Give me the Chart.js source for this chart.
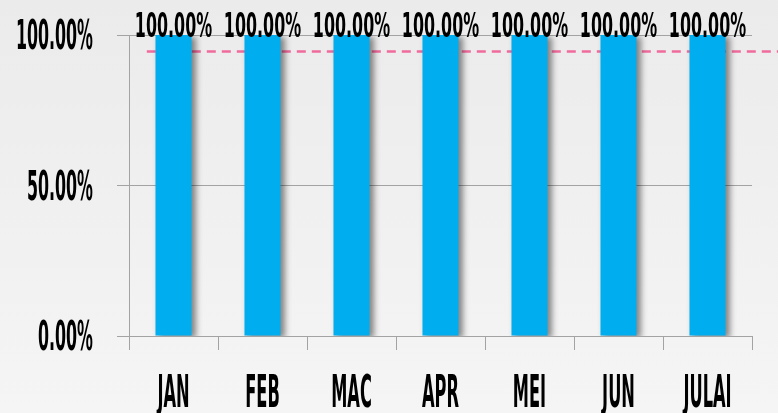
<!DOCTYPE html>
<html>
<head>
<meta charset="utf-8">
<script src="https://cdn.jsdelivr.net/npm/chart.js@4"></script>
<style>
  html, body { margin: 0; padding: 0; }
  body { width: 778px; height: 413px; background: linear-gradient(#ebebeb, #f5f5f5); overflow: hidden; }
</style>
</head>
<body>
<canvas id="myChart" width="778" height="413"></canvas>
<script>
// data
const months = ['JAN', 'FEB', 'MAC', 'APR', 'MEI', 'JUN', 'JULAI'];
const achieved = [100, 100, 100, 100, 100, 100, 100];
const target = 94.5;
const yTicks = [0, 50, 100];

const FONT = '"Liberation Sans Narrow", "DejaVu Sans Condensed", sans-serif';

function pct(v) {
  return v.toFixed(2) + '%';
}

// draw squeezed bold text, the original font is very condensed
function squeezeText(ctx, text, x, y, size, align, sq) {
  ctx.save();
  ctx.font = 'bold ' + size + 'px ' + FONT;
  ctx.fillStyle = '#000';
  ctx.textAlign = align;
  ctx.textBaseline = 'alphabetic';
  ctx.translate(x, y);
  ctx.scale(sq, 1);
  ctx.fillText(text, 0, 0);
  ctx.restore();
}

let targetLine = {
  id: 'targetLine',
  beforeDatasetsDraw(chart) {
    let ctx = chart.ctx;
    let xs = chart.scales.x, ys = chart.scales.y;
    let catW = xs.width / months.length;
    let y = ys.getPixelForValue(target);
    ctx.save();
    ctx.strokeStyle = '#f06b9c';
    ctx.lineWidth = 2.5;
    ctx.setLineDash([9, 6]);
    ctx.beginPath();
    ctx.moveTo(xs.getPixelForValue(0) - catW * 0.3, y);
    ctx.lineTo(chart.width, y);
    ctx.stroke();
    ctx.restore();
  }
};

let barShadow = {
  id: 'barShadow',
  beforeDatasetDraw(chart) {
    let ctx = chart.ctx;
    ctx.save();
    ctx.shadowColor = 'rgba(0,0,0,0.45)';
    ctx.shadowOffsetX = 4;
    ctx.shadowOffsetY = 2;
    ctx.shadowBlur = 6;
  },
  afterDatasetDraw(chart) {
    chart.ctx.restore();
  }
};

let labels = {
  id: 'labels',
  afterDraw(chart) {
    let ctx = chart.ctx;
    let xs = chart.scales.x, ys = chart.scales.y;
    // y tick labels
    yTicks.forEach(v => {
      squeezeText(ctx, pct(v), ys.left - 24, ys.getPixelForValue(v) + 14, 41, 'right', 0.43);
    });
    // month labels
    months.forEach((m, i) => {
      squeezeText(ctx, m, xs.getPixelForValue(i), xs.bottom + 57, 44, 'center', 0.41);
    });
    // values above bars
    chart.getDatasetMeta(0).data.forEach((bar, i) => {
      squeezeText(ctx, pct(achieved[i]), bar.x, bar.y + 2, 34, 'center', 0.52);
    });
  }
};

let ctx = document.getElementById('myChart').getContext('2d');
let chart = new Chart(ctx, {
  type: 'bar',
  data: {
    labels: months,
    datasets: [{
      label: 'Pencapaian',
      data: achieved,
      backgroundColor: '#00aeef',
      borderWidth: 0,
      barPercentage: 0.405,
      categoryPercentage: 1
    }]
  },
  options: {
    responsive: false,
    animation: false,
    layout: { padding: { left: 117, right: 26, top: 35, bottom: 63 } },
    plugins: {
      legend: { display: false },
      tooltip: { enabled: false }
    },
    scales: {
      x: {
        ticks: { display: false },
        grid: { drawOnChartArea: false, tickLength: 14, color: '#a3a3a3', offset: true },
        border: { color: '#a3a3a3' }
      },
      y: {
        min: 0,
        max: 100,
        ticks: { display: false, stepSize: 50 },
        grid: { tickLength: 12, color: '#a3a3a3' },
        border: { color: '#a3a3a3' }
      }
    }
  },
  plugins: [targetLine, barShadow, labels]
});
</script>
</body>
</html>
